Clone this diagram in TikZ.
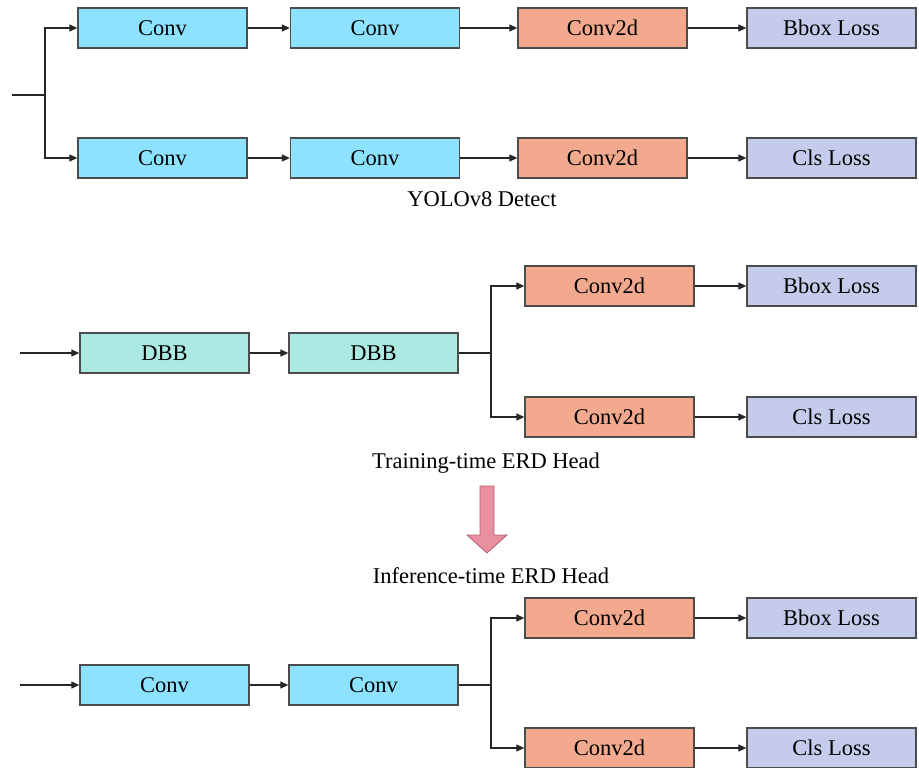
\documentclass[tikz,border=0pt]{standalone}
\usepackage{fontspec}
\setmainfont{Liberation Serif}
\usetikzlibrary{arrows.meta,positioning}
\definecolor{convc}{HTML}{8DE3FF}
\definecolor{c2dc}{HTML}{F2A98E}
\definecolor{lossc}{HTML}{C5CBEA}
\definecolor{dbbc}{HTML}{ABE9E2}
\definecolor{pinkc}{HTML}{E8909F}
\definecolor{pinkd}{HTML}{B06070}
\begin{document}
\begin{tikzpicture}[x=1pt,y=-1pt,
  blk/.style={draw=black!70, line width=1.3pt, minimum width=169pt, minimum height=40pt, inner sep=0pt, font=\fontsize{22.5}{27}\selectfont},
  convb/.style={blk, fill=convc},
  c2db/.style={blk, fill=c2dc},
  lossb/.style={blk, fill=lossc},
  dbbb/.style={blk, fill=dbbc},
  lab/.style={font=\fontsize{22.5}{27}\selectfont, inner sep=0pt},
  ln/.style={line width=1.2pt, black!85},
  arr/.style={ln, -{Triangle[length=8pt,width=7pt]}}]
\useasboundingbox (0,0) rectangle (919,768);
% --- YOLOv8 Detect ---
\node[convb] (a1) at (162.5,28) {Conv};
\node[convb] (a2) at (375,28) {Conv};
\node[c2db] (a3) at (602.5,28) {Conv2d};
\node[lossb] (a4) at (831.5,28) {Bbox Loss};
\node[convb] (b1) at (162.5,158) {Conv};
\node[convb] (b2) at (375,158) {Conv};
\node[c2db] (b3) at (602.5,158) {Conv2d};
\node[lossb] (b4) at (831.5,158) {Cls Loss};
\coordinate (in1) at (12,95);
\coordinate (sp1) at (45,95);
\draw[ln] (in1) -- (sp1);
\draw[arr] (sp1) |- (a1.west);
\draw[arr] (sp1) |- (b1.west);
\draw[arr] (a1) -- (a2); \draw[arr] (a2) -- (a3); \draw[arr] (a3) -- (a4);
\draw[arr] (b1) -- (b2); \draw[arr] (b2) -- (b3); \draw[arr] (b3) -- (b4);
\node[lab] (t1) at (482,199) {YOLOv8 Detect};
% --- Training-time ---
\node[dbbb] (c1) at (164.5,353) {DBB};
\node[dbbb] (c2) at (373.5,353) {DBB};
\node[c2db] (d1) at (609.5,286) {Conv2d};
\node[lossb] (d2) at (831.5,286) {Bbox Loss};
\node[c2db] (e1) at (609.5,417) {Conv2d};
\node[lossb] (e2) at (831.5,417) {Cls Loss};
\coordinate (in2) at (20,353);
\coordinate (sp2) at (491,353);
\draw[arr] (in2) -- (c1);
\draw[arr] (c1) -- (c2);
\draw[ln] (c2) -- (sp2);
\draw[arr] (sp2) |- (d1.west);
\draw[arr] (sp2) |- (e1.west);
\draw[arr] (d1) -- (d2); \draw[arr] (e1) -- (e2);
\node[lab] (t2) at (486,463) {Training-time ERD Head};
% --- big arrow ---
\draw[draw=pinkd, fill=pinkc, line width=0.8pt]
  (480,486) -- (494,486) -- (494,535) -- (507,535) -- (487,553) -- (467,535) -- (480,535) -- cycle;
% --- Inference-time ---
\node[lab] (t3) at (491,576) {Inference-time ERD Head};
\node[convb] (f1) at (164.5,685) {Conv};
\node[convb] (f2) at (373.5,685) {Conv};
\node[c2db] (g1) at (609.5,618) {Conv2d};
\node[lossb] (g2) at (831.5,618) {Bbox Loss};
\node[c2db] (h1) at (609.5,748) {Conv2d};
\node[lossb] (h2) at (831.5,748) {Cls Loss};
\coordinate (in3) at (20,685);
\coordinate (sp3) at (491,685);
\draw[arr] (in3) -- (f1);
\draw[arr] (f1) -- (f2);
\draw[ln] (f2) -- (sp3);
\draw[arr] (sp3) |- (g1.west);
\draw[arr] (sp3) |- (h1.west);
\draw[arr] (g1) -- (g2); \draw[arr] (h1) -- (h2);
\end{tikzpicture}
\end{document}
